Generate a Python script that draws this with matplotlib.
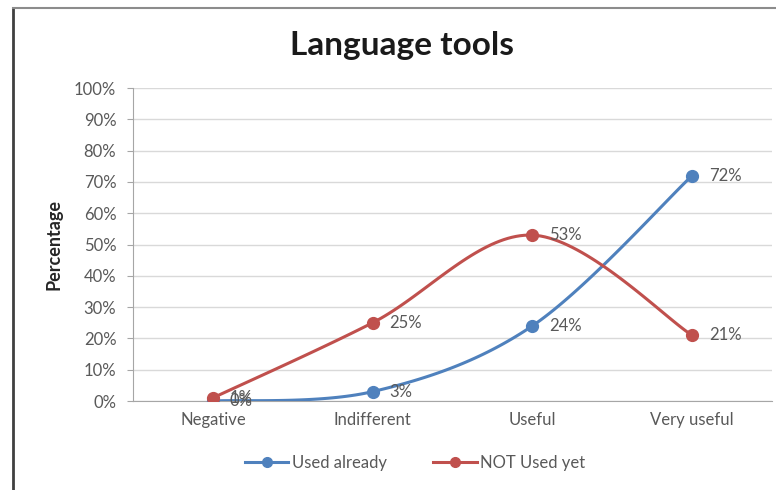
import numpy as np
import matplotlib.pyplot as plt
from matplotlib.lines import Line2D

# ─── Data ────────────────────────────────────────────────────────────────────
categories = ["Negative", "Indifferent", "Useful", "Very useful"]
used_already = [0, 3, 24, 72]
not_used_yet = [1, 25, 53, 21]
y_ticks = list(range(0, 101, 10))

BLUE = "#4F81BD"
RED = "#C0504D"
TEXT = "#595959"

plt.rcParams["font.family"] = ["Lato", "DejaVu Sans"]


def smooth(xs, ys, n=40):
    """Excel-style smoothed line: cubic Bezier with Catmull-Rom control points."""
    xs = np.asarray(xs, float)
    ys = np.asarray(ys, float)
    px = np.concatenate([[xs[0]], xs, [xs[-1]]])
    py = np.concatenate([[ys[0]], ys, [ys[-1]]])
    out_x, out_y = [], []
    t = np.linspace(0, 1, n)
    for i in range(1, len(px) - 2):
        p0 = np.array([px[i], py[i]])
        p3 = np.array([px[i + 1], py[i + 1]])
        c1 = p0 + (p3 - np.array([px[i - 1], py[i - 1]])) / 6
        c2 = p3 - (np.array([px[i + 2], py[i + 2]]) - p0) / 6
        b = ((1 - t) ** 3)[:, None] * p0 + (3 * (1 - t) ** 2 * t)[:, None] * c1 \
            + (3 * (1 - t) * t ** 2)[:, None] * c2 + (t ** 3)[:, None] * p3
        out_x.extend(b[:, 0])
        out_y.extend(b[:, 1])
    return out_x, out_y


fig = plt.figure(figsize=(7.76, 4.9), dpi=100)
ax = fig.add_axes([0.1714, 0.1816, 0.8234, 0.6388])

x = np.arange(len(categories))
for vals, color, label in [(used_already, BLUE, "Used already"),
                           (not_used_yet, RED, "NOT Used yet")]:
    sx, sy = smooth(x, vals)
    ax.plot(sx, sy, color=color, lw=2.2, zorder=3, solid_capstyle="round")
    ax.plot(x, vals, "o", color=color, ms=8.5, zorder=4)
    for xi, v in zip(x, vals):
        ax.annotate(f"{v}%", (xi, v), xytext=(12, 0), textcoords="offset points",
                    va="center", ha="left", fontsize=12, color=TEXT, zorder=5)

ax.set_xlim(-0.5, len(categories) - 0.5)
ax.set_ylim(0, 100)
ax.set_yticks(y_ticks)
ax.set_yticklabels([f"{v}%" for v in y_ticks], fontsize=12, color=TEXT)
ax.set_xticks(x)
ax.set_xticklabels(categories, fontsize=12, color=TEXT)
ax.tick_params(axis="x", length=0, pad=8)
ax.tick_params(axis="y", length=4, color="#A6A6A6", pad=8)
ax.grid(axis="y", color="#D9D9D9", lw=1)
ax.set_axisbelow(True)
for side in ["top", "right"]:
    ax.spines[side].set_visible(False)
for side in ["left", "bottom"]:
    ax.spines[side].set_color("#A6A6A6")
ax.set_ylabel("Percentage", fontsize=13, fontweight="bold", color="#262626", labelpad=8)

fig.text(0.518, 0.908, "Language tools", ha="center", va="center",
         fontsize=24, fontweight="bold", color="#1A1A1A")

handles = [Line2D([], [], color=BLUE, lw=2.2, marker="o", ms=7),
           Line2D([], [], color=RED, lw=2.2, marker="o", ms=7)]
fig.legend(handles, ["Used already", "NOT Used yet"], loc="center",
           bbox_to_anchor=(0.535, 0.055), ncol=2, frameon=False, fontsize=12,
           handlelength=2.6, columnspacing=2.8, handletextpad=0.2,
           labelcolor=TEXT)

# outer frame lines (left and top)
fig.add_artist(Line2D([13 / 776, 13 / 776], [0, 1 - 8 / 490], color="#404040", lw=2))
fig.add_artist(Line2D([13 / 776, 1], [1 - 8 / 490, 1 - 8 / 490], color="#8C8C8C", lw=1.5))

fig.savefig("out.png", dpi=100)
